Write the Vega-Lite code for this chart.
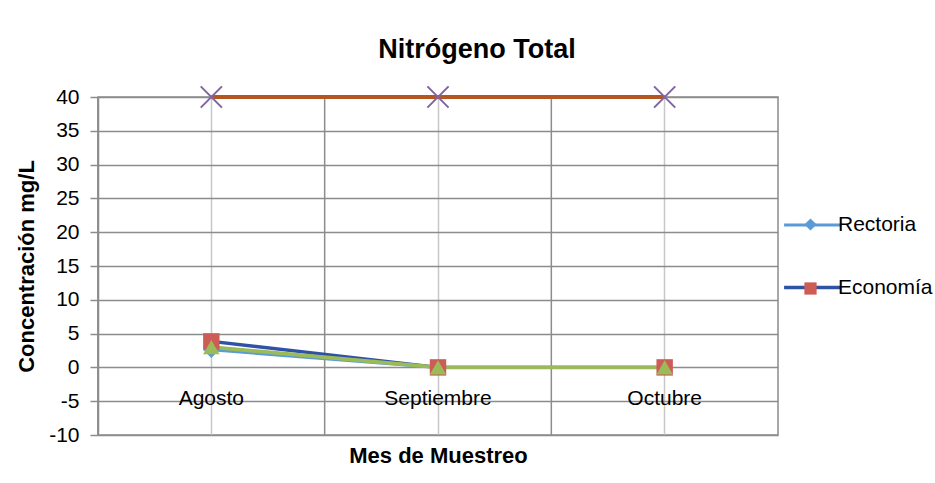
{
  "$schema": "https://vega.github.io/schema/vega-lite/v6.json",
  "width": 680,
  "height": 338,
  "autosize": {"type": "none"},
  "padding": {"left": 98, "top": 97, "right": 157, "bottom": 48},
  "background": "white",
  "title": {"text": "Nitrógeno Total", "font": "Liberation Sans", "fontSize": 27, "fontWeight": "bold", "color": "#000000", "anchor": "middle", "dx": 39, "offset": -3, "baseline": "alphabetic"},
  "config": {"view": {"stroke": "#8c8c8c", "strokeWidth": 1.5}, "font": "Liberation Sans"},
  "data": {"values": [
    {"mes": "Agosto", "serie": "Rectoria", "valor": 2.6},
    {"mes": "Septiembre", "serie": "Rectoria", "valor": 0},
    {"mes": "Octubre", "serie": "Rectoria", "valor": 0},
    {"mes": "Agosto", "serie": "Economía", "valor": 3.85},
    {"mes": "Septiembre", "serie": "Economía", "valor": 0},
    {"mes": "Octubre", "serie": "Economía", "valor": 0},
    {"mes": "Agosto", "serie": "Serie 3", "valor": 3.0},
    {"mes": "Septiembre", "serie": "Serie 3", "valor": 0},
    {"mes": "Octubre", "serie": "Serie 3", "valor": 0},
    {"mes": "Agosto", "serie": "Límite", "valor": 40},
    {"mes": "Septiembre", "serie": "Límite", "valor": 40},
    {"mes": "Octubre", "serie": "Límite", "valor": 40}
  ]},
  "layer": [
    {
      "transform": [{"filter": "datum.serie === 'Límite'"}],
      "mark": {"type": "rule", "color": "#8c8c8c", "strokeWidth": 1.5},
      "encoding": {
        "x": {"field": "mes", "type": "nominal", "bandPosition": 0, "sort": ["Agosto", "Septiembre", "Octubre"]}
      }
    },
    {
      "mark": {"type": "line", "strokeCap": "butt"},
      "encoding": {
        "x": {"field": "mes", "type": "nominal", "bandPosition": 0.5, "sort": ["Agosto", "Septiembre", "Octubre"],
          "scale": {"type": "band", "paddingInner": 0, "paddingOuter": 0},
          "axis": {"title": "Mes de Muestreo", "titleFont": "Liberation Sans", "titleFontSize": 22, "titleFontWeight": "bold", "titleColor": "#000000", "titlePadding": 10,
            "labelFont": "Liberation Sans", "labelFontSize": 21, "labelColor": "#000000", "labelPadding": -48, "labelAngle": 0, "labelAlign": "center", "labelBaseline": "top", "ticks": false, "tickSize": 0, "domain": false,
            "grid": true, "gridColor": "#c8c8c8", "gridWidth": 1.5, "bandPosition": 0.5}},
        "y": {"field": "valor", "type": "quantitative",
          "scale": {"domain": [-10, 40], "nice": false, "zero": false},
          "axis": {"title": "Concentración mg/L", "titleFont": "Liberation Sans", "titleFontSize": 22, "titleFontWeight": "bold", "titleColor": "#000000", "titlePadding": 10,
            "values": [-10, -5, 0, 5, 10, 15, 20, 25, 30, 35, 40], "tickCount": 20, "labelOverlap": false, "labelExpr": "toString(datum.value)",
            "labelFont": "Liberation Sans", "labelFontSize": 21, "labelColor": "#000000", "labelPadding": 11, "labelFlush": false,
            "tickSize": 8, "tickColor": "#8c8c8c", "tickWidth": 1.5, "domainColor": "#8c8c8c", "domainWidth": 1.5,
            "grid": true, "gridColor": "#8c8c8c", "gridWidth": 1.5}},
        "stroke": {"field": "serie", "type": "nominal",
          "scale": {"domain": ["Rectoria", "Economía", "Serie 3", "Límite"], "range": ["#5B9BD5", "#2F52A6", "#9BBB59", "#B4561F"]},
          "legend": {"orient": "none", "legendX": 684, "legendY": 98, "title": null, "values": ["Rectoria", "Economía"],
            "symbolType": "stroke", "symbolSize": 3228, "symbolStrokeWidth": 4, "labelFont": "Liberation Sans", "labelFontSize": 21, "labelColor": "#000000", "labelOffset": -5, "rowPadding": 22}},
        "strokeWidth": {"field": "serie", "type": "ordinal",
          "scale": {"domain": ["Rectoria", "Economía", "Serie 3", "Límite"], "range": [3, 4, 4, 5.5]},
          "legend": null}
      }
    },
    {
      "transform": [{"filter": "datum.serie !== 'Límite'"}],
      "mark": {"type": "point", "filled": true, "opacity": 1, "size": 270},
      "encoding": {
        "x": {"field": "mes", "type": "nominal", "bandPosition": 0.5, "sort": ["Agosto", "Septiembre", "Octubre"]},
        "y": {"field": "valor", "type": "quantitative",
          "axis": {"title": "Concentración mg/L", "titleFont": "Liberation Sans", "titleFontSize": 22, "titleFontWeight": "bold", "titleColor": "#000000", "titlePadding": 10,
            "values": [-10, -5, 0, 5, 10, 15, 20, 25, 30, 35, 40], "tickCount": 20, "labelOverlap": false, "labelExpr": "toString(datum.value)",
            "labelFont": "Liberation Sans", "labelFontSize": 21, "labelColor": "#000000", "labelPadding": 11, "labelFlush": false,
            "tickSize": 8, "tickColor": "#8c8c8c", "tickWidth": 1.5, "domainColor": "#8c8c8c", "domainWidth": 1.5,
            "grid": true, "gridColor": "#8c8c8c", "gridWidth": 1.5}},
        "fill": {"field": "serie", "type": "nominal",
          "scale": {"domain": ["Rectoria", "Economía", "Serie 3"], "range": ["#5B9BD5", "#CD5C57", "#9BBB59"]},
          "legend": {"orient": "none", "legendX": 702, "legendY": 117, "title": null, "values": ["Rectoria", "Economía"], "symbolSize": 150, "labelFontSize": 21, "labelExpr": "''", "rowPadding": 42}},
        "shape": {"field": "serie", "type": "nominal",
          "scale": {"domain": ["Rectoria", "Economía", "Serie 3"], "range": ["diamond", "square", "triangle-up"]},
          "legend": {"orient": "none", "legendX": 702, "legendY": 117, "title": null, "values": ["Rectoria", "Economía"], "symbolSize": 150, "labelFontSize": 21, "labelExpr": "''", "rowPadding": 42}}
      }
    },
    {
      "transform": [{"filter": "datum.serie === 'Límite'"}],
      "mark": {"type": "point", "shape": "M-1,-1L1,1M-1,1L1,-1", "filled": false, "stroke": "#8064A2", "strokeWidth": 2, "size": 450, "opacity": 1},
      "encoding": {
        "x": {"field": "mes", "type": "nominal", "bandPosition": 0.5, "sort": ["Agosto", "Septiembre", "Octubre"]},
        "y": {"field": "valor", "type": "quantitative",
          "axis": {"title": "Concentración mg/L", "titleFont": "Liberation Sans", "titleFontSize": 22, "titleFontWeight": "bold", "titleColor": "#000000", "titlePadding": 10,
            "values": [-10, -5, 0, 5, 10, 15, 20, 25, 30, 35, 40], "tickCount": 20, "labelOverlap": false, "labelExpr": "toString(datum.value)",
            "labelFont": "Liberation Sans", "labelFontSize": 21, "labelColor": "#000000", "labelPadding": 11, "labelFlush": false,
            "tickSize": 8, "tickColor": "#8c8c8c", "tickWidth": 1.5, "domainColor": "#8c8c8c", "domainWidth": 1.5,
            "grid": true, "gridColor": "#8c8c8c", "gridWidth": 1.5}}
      }
    }
  ]
}
